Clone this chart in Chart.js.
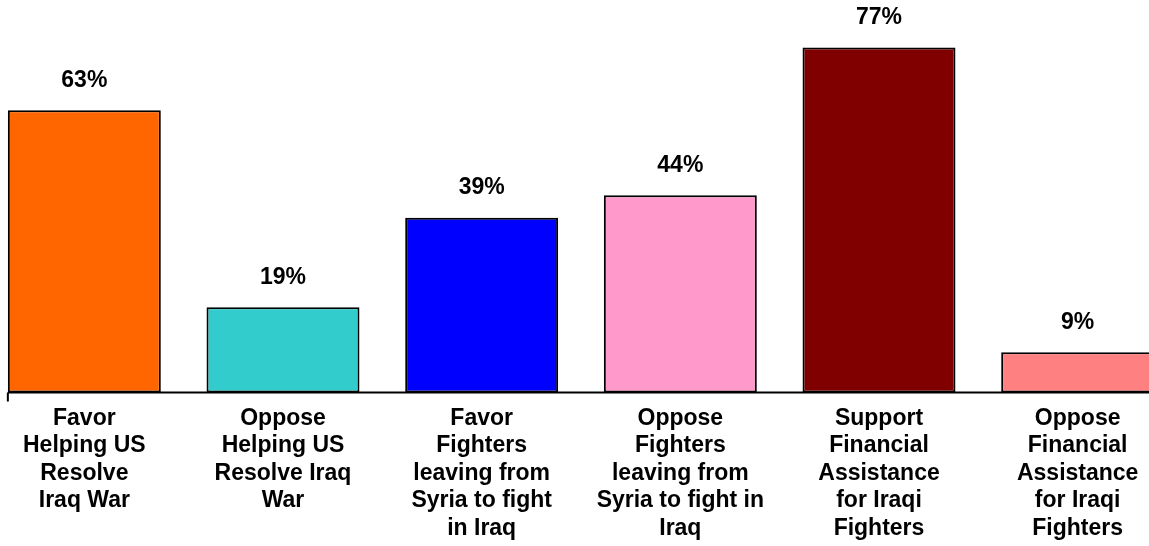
<!DOCTYPE html>
<html>
<head>
<meta charset="utf-8">
<script src="https://cdn.jsdelivr.net/npm/chart.js@4/dist/chart.umd.min.js"></script>
<style>
  html, body { margin: 0; padding: 0; background: #fff; overflow: hidden; }
  #wrap { position: absolute; left: -15px; top: 0; width: 1192px; height: 546px; }
</style>
</head>
<body>
<div id="wrap"><canvas id="grafica" width="1192" height="546"></canvas></div>
<script>
const categorias = [
  ['Favor', 'Helping US', 'Resolve', 'Iraq War'],
  ['Oppose', 'Helping US', 'Resolve Iraq', 'War'],
  ['Favor', 'Fighters', 'leaving from', 'Syria to fight', 'in Iraq'],
  ['Oppose', 'Fighters', 'leaving from', 'Syria to fight in', 'Iraq'],
  ['Support', 'Financial', 'Assistance', 'for Iraqi', 'Fighters'],
  ['Oppose', 'Financial', 'Assistance', 'for Iraqi', 'Fighters']
];
const valores = [63, 19, 39, 44, 77, 9];
const colores = ['#FF6600', '#33CCCC', '#0000FF', '#FF99CC', '#800000', '#FF8080'];

const fuente = 'Liberation Sans, Arial, sans-serif';

// etiquetas de porcentaje encima de cada barra + linea base
const etiquetas = {
  id: 'etiquetas',
  afterDatasetsDraw(chart) {
    const ctx = chart.ctx;
    const meta = chart.getDatasetMeta(0);
    const area = chart.chartArea;
    ctx.save();
    // linea base desde el borde de la primera barra
    const x0 = meta.data[0].x - meta.data[0].width / 2;
    ctx.strokeStyle = '#000';
    ctx.lineWidth = 2;
    ctx.beginPath();
    ctx.moveTo(x0, area.bottom);
    ctx.lineTo(area.right, area.bottom);
    ctx.moveTo(x0, area.bottom);
    ctx.lineTo(x0, area.bottom + 9);
    ctx.stroke();

    ctx.font = 'bold 23px ' + fuente;
    ctx.fillStyle = '#000';
    ctx.textAlign = 'center';
    ctx.textBaseline = 'middle';
    meta.data.forEach((bar, i) => {
      ctx.fillText(valores[i] + '%', bar.x, bar.y - 30);
    });
    ctx.restore();
  }
};

const ctx = document.getElementById('grafica').getContext('2d');
new Chart(ctx, {
  type: 'bar',
  data: {
    labels: categorias,
    datasets: [{
      data: valores,
      backgroundColor: colores,
      borderColor: '#000',
      borderWidth: 2,
      borderSkipped: false,
      categoryPercentage: 1,
      barPercentage: 0.77
    }]
  },
  options: {
    responsive: false,
    animation: false,
    layout: { padding: { top: 34, left: 0, right: 0, bottom: 0 } },
    plugins: {
      legend: { display: false },
      tooltip: { enabled: false }
    },
    scales: {
      x: {
        grid: { display: false, drawTicks: false },
        border: { display: false },
        ticks: {
          color: '#000',
          padding: 12,
          autoSkip: false,
          maxRotation: 0,
          font: { family: fuente, size: 23, weight: 'bold', lineHeight: 1.2 }
        },
        afterFit(scale) { scale.height = 153.5; }
      },
      y: {
        display: false,
        min: 0,
        max: 80
      }
    }
  },
  plugins: [etiquetas]
});
</script>
</body>
</html>
